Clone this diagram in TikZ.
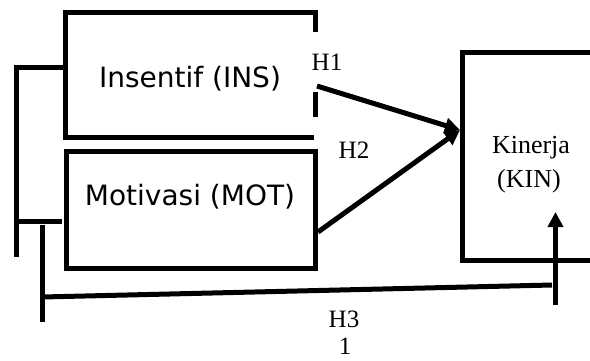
\documentclass[tikz,border=0pt]{standalone}
\usepackage{fontspec}
\setmainfont{Liberation Serif}
\newfontfamily\boxfont{DejaVu Sans}
\usetikzlibrary{arrows.meta}
\begin{document}
\begin{tikzpicture}[x=1pt,y=-1pt,
  rule/.style={line width=5pt},
  link/.style={line width=5pt, -{Triangle[length=15pt,width=15pt]}},
  varbox/.style={inner sep=0pt, outer sep=0pt},
  boxtext/.style={font=\boxfont\fontsize{28}{33}\selectfont, anchor=base, inner sep=0pt},
  hyp/.style={font=\fontsize{25}{30}\selectfont, anchor=base, inner sep=0pt},
  kintext/.style={font=\fontsize{26}{34}\selectfont, anchor=base, inner sep=0pt}
]
\clip (0,0) rectangle (590,360);
\fill[white] (0,0) rectangle (590,360);

% variable boxes
\node[varbox, minimum width=250pt, minimum height=125pt] (ins) at (190.5,75) {};
\node[varbox, minimum width=249.5pt, minimum height=117pt] (mot) at (190.75,210) {};
\node[varbox, minimum width=160pt, minimum height=208pt] (kin) at (542.5,156.5) {};

% Insentif: border with a broken right side
\draw[rule] (ins.east |- 0,32) -- (ins.north east) -- (ins.north west)
  -- (ins.south west) -- ([xshift=-2pt]ins.south east);
\draw[rule] (315.5,92) -- (315.5,117);
% Motivasi and Kinerja borders
\draw[rule] (mot.north west) rectangle (mot.south east);
\draw[rule] (kin.north west) rectangle (kin.south east);

% box texts
\node[boxtext] (insT) at (190,87) {Insentif (INS)};
\node[boxtext] (motT) at (190,205) {Motivasi (MOT)};
\node[kintext] (kinT1) at (531,153) {Kinerja};
\node[kintext] (kinT2) at (529,187) {(KIN)};

% hypothesis labels
\node[hyp] (h1) at (327,70) {H1};
\node[hyp] (h2) at (354,158) {H2};
\node[hyp] (h3) at (344,327) {H3};
\node[hyp] (h3b) at (345,354) {1};

% left brackets
\coordinate (bTop) at (16,67);
\coordinate (bBot) at (16,257);
\draw[rule] (ins.west |- bTop) -- (bTop) -- (bBot);
\draw[rule] (16,221) -- (62,221);
\coordinate (jTop) at (42,225);
\coordinate (jBot) at (42,322);
\draw[rule] (jTop) -- (jBot);

% paths to Kinerja
\coordinate (h1s) at (317,86);
\coordinate (h2s) at (318,232);
\coordinate (tip) at (460,130);
\draw[link] (h1s) -- (tip);
\draw[link] (h2s) -- (tip);

\coordinate (h3s) at (42,297);
\coordinate (h3e) at (552,285);
\draw[rule] (h3s) -- (h3e);
\coordinate (upS) at (555.5,305);
\coordinate (upE) at (555.5,212);
\draw[link] (upS) -- (upE);
\end{tikzpicture}
\end{document}
